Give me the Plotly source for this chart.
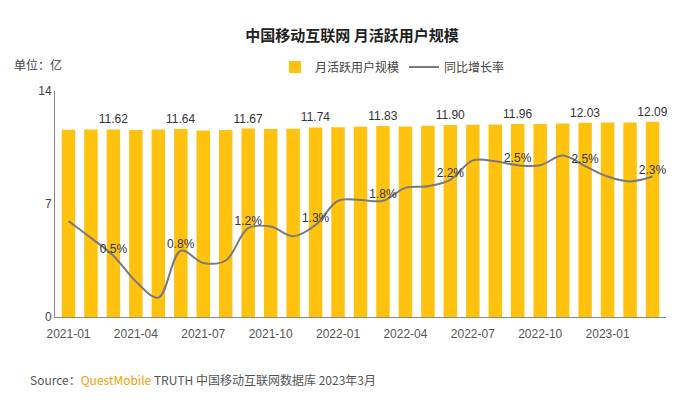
import plotly.graph_objects as go

# months from 2021-01 to 2023-03
months = [f"{y}-{m:02d}" for y in (2021, 2022, 2023) for m in range(1, 13)][:27]
mau = [11.60, 11.61, 11.62, 11.58, 11.62, 11.64, 11.56, 11.58, 11.67,
       11.65, 11.66, 11.74, 11.76, 11.79, 11.83, 11.80, 11.85, 11.90,
       11.91, 11.93, 11.96, 11.95, 11.98, 12.03, 12.05, 12.05, 12.09]
# growth line as drawn (chart units), labels shown every 3rd month
yoy_line = [5.95, 4.9, 3.8, 2.2, 1.2, 4.1, 3.35, 3.5, 5.5, 5.6, 5.0, 5.7, 7.2,
            7.25, 7.2, 8.0, 8.1, 8.5, 9.7, 9.65, 9.4, 9.4, 10.0, 9.35, 8.7, 8.4, 8.7]
yoy_labels = {2: "0.5%", 5: "0.8%", 8: "1.2%", 11: "1.3%", 14: "1.8%",
              17: "2.2%", 20: "2.5%", 23: "2.5%", 26: "2.3%"}
tick_months = months[::3]

bar_text = [f"{v:.2f}" if i % 3 == 2 else "" for i, v in enumerate(mau)]
line_text = [yoy_labels.get(i, "") for i in range(len(months))]

fig = go.Figure()
fig.add_trace(go.Bar(
    x=months, y=mau, name="月活跃用户规模", width=0.6,
    marker=dict(color="#FFC30F", line=dict(width=0)),
    text=bar_text, textposition="outside", cliponaxis=False, constraintext="none",
    textfont=dict(color="#333", size=12, family="Arial"),
))
fig.add_trace(go.Scatter(
    x=months, y=yoy_line, name="同比增长率", mode="lines+text", yaxis="y2",
    line=dict(color="#7a7a7a", width=2, shape="spline"),
    text=line_text, textposition="top center",
    textfont=dict(color="#333", size=12, family="Arial"),
))

fig.update_layout(
    width=688, height=400,
    paper_bgcolor="white", plot_bgcolor="white",
    font=dict(family="Noto Sans CJK SC, Arial", color="#444", size=12),
    title=dict(text="<b>中国移动互联网 月活跃用户规模</b>", x=0.5, y=0.945,
               xanchor="center", font=dict(size=15, color="#222")),
    margin=dict(l=47, r=30, t=83, b=91),
    bargap=0.4,
    showlegend=True,
    legend=dict(orientation="h", x=0.36, y=1.17, xanchor="left",
                font=dict(size=12, color="#444")),
    xaxis=dict(type="category", tickmode="array", tickvals=tick_months, ticktext=tick_months,
               showline=True, linecolor="#888", ticks="", showgrid=False,
               ticklabelstandoff=6,
               tickfont=dict(size=12, color="#555", family="Arial"),
               range=[-0.6, 26.6]),
    yaxis=dict(range=[0, 14], tickvals=[0, 7, 14], showgrid=False, ticksuffix="  ",
               showline=True, linecolor="#888", tickfont=dict(size=12, color="#444", family="Arial")),
    yaxis2=dict(range=[0, 14], overlaying="y", visible=False),
    annotations=[
        dict(text="单位：亿", xref="paper", yref="paper", x=-0.07, y=1.165,
             xanchor="left", showarrow=False, font=dict(size=12, color="#444")),
        dict(text="Source：<span style='color:#F5A000'>QuestMobile</span> TRUTH 中国移动互联网数据库 2023年3月",
             xref="paper", yref="paper", x=-0.045, y=-0.325, xanchor="left",
             showarrow=False, font=dict(size=12, color="#555")),
    ],
)
fig.write_html("out.html")
